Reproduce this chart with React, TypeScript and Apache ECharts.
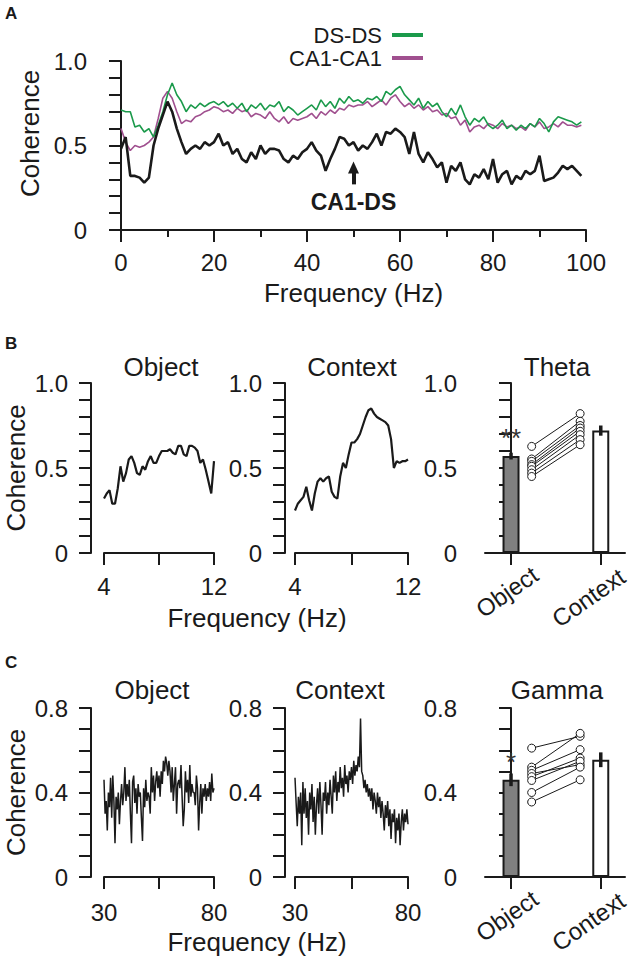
import React, { useEffect, useRef } from 'react';
import * as echarts from 'echarts';

const FONT = 'Liberation Sans, Arial, Helvetica, sans-serif';
const INK = '#1a1a1a';
const GREEN = '#1b9a4b';
const PURPLE = '#a0508f';

// ---------- Panel A: coherence spectra 0-99 Hz ----------
const freqA = Array.from({ length: 100 }, (_, i) => i);
const dsds = [
  0.71, 0.70, 0.70, 0.61, 0.62, 0.58, 0.60, 0.55, 0.62, 0.70,
  0.80, 0.87, 0.80, 0.76, 0.70, 0.74, 0.72, 0.75, 0.73, 0.75,
  0.76, 0.74, 0.76, 0.73, 0.75, 0.72, 0.75, 0.70, 0.74, 0.72,
  0.75, 0.71, 0.74, 0.73, 0.76, 0.70, 0.73, 0.71, 0.68, 0.70,
  0.72, 0.74, 0.71, 0.77, 0.73, 0.76, 0.72, 0.78, 0.75, 0.79,
  0.76, 0.77, 0.75, 0.78, 0.77, 0.79, 0.76, 0.82, 0.80, 0.83,
  0.85, 0.80, 0.77, 0.74, 0.78, 0.72, 0.76, 0.73, 0.75, 0.70,
  0.67, 0.72, 0.68, 0.74, 0.67, 0.62, 0.66, 0.64, 0.67, 0.62,
  0.60, 0.62, 0.65, 0.60, 0.62, 0.59, 0.62, 0.60, 0.63, 0.61,
  0.66, 0.63, 0.58, 0.64, 0.67, 0.66, 0.65, 0.64, 0.62, 0.64,
];
const ca1ca1 = [
  0.60, 0.52, 0.47, 0.50, 0.49, 0.50, 0.52, 0.55, 0.66, 0.78,
  0.82, 0.78, 0.70, 0.63, 0.65, 0.64, 0.67, 0.68, 0.70, 0.71,
  0.73, 0.72, 0.70, 0.71, 0.69, 0.72, 0.70, 0.71, 0.67, 0.69,
  0.68, 0.66, 0.70, 0.66, 0.64, 0.67, 0.63, 0.66, 0.65, 0.66,
  0.67, 0.69, 0.66, 0.70, 0.68, 0.71, 0.69, 0.72, 0.71, 0.74,
  0.73, 0.74, 0.74, 0.76, 0.73, 0.75, 0.77, 0.74, 0.78, 0.80,
  0.76, 0.73, 0.75, 0.72, 0.74, 0.71, 0.73, 0.70, 0.71, 0.68,
  0.69, 0.66, 0.67, 0.62, 0.65, 0.58, 0.61, 0.62, 0.60, 0.63,
  0.62, 0.60, 0.63, 0.61, 0.62, 0.60, 0.61, 0.59, 0.63, 0.61,
  0.64, 0.60, 0.61, 0.63, 0.61, 0.64, 0.62, 0.62, 0.61, 0.62,
];
const ca1ds = [
  0.48, 0.55, 0.32, 0.32, 0.31, 0.28, 0.31, 0.50, 0.60, 0.68,
  0.76, 0.70, 0.60, 0.52, 0.45, 0.48, 0.50, 0.48, 0.52, 0.50,
  0.52, 0.57, 0.50, 0.52, 0.45, 0.48, 0.42, 0.40, 0.46, 0.42,
  0.50, 0.45, 0.48, 0.48, 0.47, 0.42, 0.40, 0.44, 0.42, 0.46,
  0.48, 0.52, 0.47, 0.44, 0.35, 0.42, 0.48, 0.55, 0.54, 0.50,
  0.52, 0.47, 0.50, 0.48, 0.52, 0.57, 0.50, 0.58, 0.57, 0.60,
  0.58, 0.55, 0.45, 0.58, 0.45, 0.40, 0.46, 0.42, 0.37, 0.40,
  0.28, 0.38, 0.35, 0.40, 0.30, 0.27, 0.33, 0.31, 0.36, 0.30,
  0.42, 0.28, 0.33, 0.35, 0.27, 0.32, 0.30, 0.35, 0.33, 0.35,
  0.44, 0.29, 0.30, 0.31, 0.34, 0.38, 0.36, 0.38, 0.35, 0.32,
];
const arrowFreq = 50;
const arrowFrom = 0.27;
const arrowTo = 0.37;

// ---------- Panel B: theta 4-12 Hz ----------
const freqTheta = Array.from({ length: 41 }, (_, i) => Math.round((4 + 0.2 * i) * 10) / 10);
const thetaObject = [
  0.32, 0.35, 0.37, 0.29, 0.29, 0.38, 0.51, 0.42, 0.47, 0.55,
  0.57, 0.53, 0.47, 0.46, 0.51, 0.49, 0.54, 0.57, 0.53, 0.53,
  0.57, 0.60, 0.60, 0.60, 0.61, 0.59, 0.58, 0.63, 0.63, 0.58,
  0.57, 0.63, 0.63, 0.62, 0.60, 0.53, 0.55, 0.49, 0.42, 0.35, 0.54,
];
const thetaContext = [
  0.25, 0.29, 0.31, 0.33, 0.39, 0.31, 0.25, 0.35, 0.42, 0.44,
  0.42, 0.44, 0.45, 0.36, 0.33, 0.32, 0.45, 0.53, 0.50, 0.58,
  0.65, 0.65, 0.67, 0.70, 0.75, 0.80, 0.84, 0.85, 0.82, 0.80,
  0.79, 0.78, 0.77, 0.75, 0.67, 0.50, 0.54, 0.53, 0.54, 0.54, 0.55,
];
const barCats = ['Object', 'Context'];
const thetaMean = [0.57, 0.72];
const thetaSem = [0.02, 0.03];
const thetaObjPts = [0.627, 0.553, 0.539, 0.52, 0.51, 0.49, 0.47, 0.45];
const thetaCtxPts = [0.82, 0.775, 0.75, 0.735, 0.716, 0.696, 0.667, 0.637];
const thetaStars = '**';

// ---------- Panel C: gamma 30-80 Hz ----------
const freqGamma = Array.from({ length: 101 }, (_, i) => 30 + 0.5 * i);
const gammaObject = [
  0.46, 0.30, 0.36, 0.22, 0.40, 0.33, 0.47, 0.28, 0.48, 0.36,
  0.16, 0.38, 0.32, 0.40, 0.25, 0.36, 0.44, 0.34, 0.40, 0.52,
  0.36, 0.44, 0.38, 0.46, 0.30, 0.16, 0.45, 0.48, 0.35, 0.42,
  0.30, 0.44, 0.38, 0.40, 0.28, 0.17, 0.42, 0.33, 0.46, 0.36,
  0.40, 0.38, 0.30, 0.52, 0.40, 0.48, 0.36, 0.45, 0.50, 0.42,
  0.48, 0.38, 0.50, 0.44, 0.55, 0.50, 0.57, 0.54, 0.48, 0.55,
  0.50, 0.40, 0.52, 0.36, 0.44, 0.52, 0.30, 0.44, 0.46, 0.42,
  0.53, 0.38, 0.24, 0.32, 0.50, 0.40, 0.46, 0.35, 0.53, 0.38,
  0.44, 0.40, 0.40, 0.34, 0.48, 0.42, 0.22, 0.35, 0.44, 0.30,
  0.42, 0.38, 0.44, 0.36, 0.42, 0.38, 0.45, 0.36, 0.49, 0.40,
  0.42,
];
const gammaContext = [
  0.47, 0.35, 0.24, 0.38, 0.30, 0.40, 0.15, 0.45, 0.30, 0.42,
  0.28, 0.36, 0.20, 0.40, 0.32, 0.44, 0.26, 0.38, 0.20, 0.34,
  0.42, 0.30, 0.45, 0.34, 0.20, 0.40, 0.36, 0.45, 0.30, 0.40,
  0.34, 0.46, 0.38, 0.30, 0.48, 0.40, 0.50, 0.36, 0.45, 0.40,
  0.52, 0.42, 0.47, 0.38, 0.53, 0.44, 0.48, 0.40, 0.50, 0.46,
  0.52, 0.44, 0.55, 0.48, 0.53, 0.50, 0.57, 0.52, 0.75, 0.50,
  0.48, 0.42, 0.46, 0.40, 0.44, 0.38, 0.42, 0.36, 0.42, 0.32,
  0.40, 0.36, 0.30, 0.40, 0.33, 0.38, 0.28, 0.36, 0.30, 0.22,
  0.34, 0.28, 0.36, 0.24, 0.32, 0.18, 0.30, 0.26, 0.32, 0.16,
  0.28, 0.22, 0.30, 0.15, 0.26, 0.32, 0.22, 0.30, 0.26, 0.32,
  0.25,
];
const gammaMean = [0.46, 0.555];
const gammaSem = [0.03, 0.035];
const gammaObjPts = [0.61, 0.52, 0.505, 0.49, 0.475, 0.457, 0.4, 0.355];
const gammaCtxPts = [0.666, 0.68, 0.603, 0.532, 0.563, 0.548, 0.52, 0.46];
const gammaStars = '*';

// layout constants for bar panels (value-axis positions of groups)
const BAR_MIN = -0.29;
const BAR_MAX = 1.27;
const PAIR_L = 0.23;
const PAIR_R = 0.77;

const zip = (xs: number[], ys: number[]) => xs.map((x, i) => [x, ys[i]]);

const near = (v: number, list: number[]) => list.some((l) => Math.abs(l - v) < 1e-6);
const fmtY = (labels: number[]) => (v: number) =>
  near(v, labels) ? (Math.abs(v) < 1e-6 ? '0' : v.toFixed(1)) : '';

const lineStyleAxis = { color: INK, width: 2 };

function yAx(gridIndex: number, max: number, labels: number[], offset: number, name?: string) {
  return {
    type: 'value',
    gridIndex,
    min: 0,
    max,
    interval: 0.1,
    offset,
    axisLine: { show: true, lineStyle: lineStyleAxis },
    axisTick: { show: true, length: 12, lineStyle: lineStyleAxis },
    splitLine: { show: false },
    axisLabel: { fontSize: 24, color: INK, fontFamily: FONT, margin: 23, formatter: fmtY(labels) },
    name: name || '',
    nameLocation: 'middle',
    nameGap: 62,
    nameTextStyle: { fontSize: 26, color: INK, fontFamily: FONT },
  };
}

function xFreq(gridIndex: number, min: number, max: number, interval: number, labels: number[]) {
  return {
    type: 'value',
    gridIndex,
    min,
    max,
    interval,
    axisLine: { show: true, lineStyle: lineStyleAxis },
    axisTick: { show: true, length: 12, lineStyle: lineStyleAxis },
    splitLine: { show: false },
    axisLabel: {
      fontSize: 24,
      color: INK,
      fontFamily: FONT,
      margin: 21,
      formatter: (v: number) => (near(v, labels) ? String(v) : ''),
    },
  };
}

function xBar(gridIndex: number) {
  return {
    type: 'value',
    gridIndex,
    min: BAR_MIN,
    max: BAR_MAX,
    axisLine: { show: true, lineStyle: lineStyleAxis },
    axisTick: { show: true, length: 12, lineStyle: lineStyleAxis, customValues: [0, 1] },
    splitLine: { show: false },
    axisLabel: {
      customValues: [0, 1],
      fontSize: 24,
      color: INK,
      fontFamily: FONT,
      rotate: 35,
      align: 'center',
      verticalAlign: 'middle',
      margin: 36,
      formatter: (v: number) => (Math.round(v) === 0 ? '{o|' + barCats[0] + '}' : '{c|' + barCats[1] + '}'),
      rich: {
        o: { fontSize: 24, color: INK, fontFamily: FONT, padding: [0, 10, 0, 0] },
        c: { fontSize: 24, color: INK, fontFamily: FONT, padding: [0, 30, 0, 0] },
      },
    },
  };
}

function barSeries(axisIdx: number, mean: number[], sem: number[], objPts: number[], ctxPts: number[], stars: string) {
  const out: any[] = [];
  out.push({
    type: 'bar',
    xAxisIndex: axisIdx,
    yAxisIndex: axisIdx,
    barWidth: 17,
    z: 2,
    data: barCats.map((c, i) => ({
      name: c,
      value: [i, mean[i]],
      itemStyle: { color: i === 0 ? '#808080' : '#ffffff', borderColor: INK, borderWidth: 2 },
      label:
        i === 0
          ? { show: true, position: 'top', distance: 5, formatter: stars, fontSize: 26, color: '#333333', fontFamily: FONT }
          : { show: false },
    })),
  });
  out.push({
    type: 'custom',
    xAxisIndex: axisIdx,
    yAxisIndex: axisIdx,
    z: 5,
    encode: { x: 0, y: 1 },
    data: mean.map((m, i) => [i, m, sem[i]]),
    renderItem: (params: any, api: any) => {
      const x = api.value(0);
      const m = api.value(1);
      const e = api.value(2);
      const top = api.coord([x, m + e]);
      const bot = api.coord([x, m - e]);
      return {
        type: 'line',
        shape: { x1: top[0], y1: top[1], x2: bot[0], y2: bot[1] },
        style: { stroke: INK, lineWidth: 3.5 },
      };
    },
  });
  objPts.forEach((l, k) => {
    out.push({
      type: 'line',
      xAxisIndex: axisIdx,
      yAxisIndex: axisIdx,
      z: 4,
      data: [
        [PAIR_L, l],
        [PAIR_R, ctxPts[k]],
      ],
      symbol: 'circle',
      symbolSize: 8,
      showSymbol: true,
      itemStyle: { color: '#ffffff', borderColor: INK, borderWidth: 1 },
      lineStyle: { color: INK, width: 1 },
    });
  });
  return out;
}

function text(x: number, y: number, t: string, size: number, bold = false, align = 'center') {
  return {
    type: 'text',
    x,
    y,
    style: {
      text: t,
      fontSize: size,
      fontFamily: FONT,
      fontWeight: bold ? 'bold' : 'normal',
      fill: INK,
      align,
      verticalAlign: 'middle',
    },
  };
}

export default function App() {
  const ref = useRef<HTMLDivElement>(null);
  useEffect(() => {
    document.body.style.margin = '0';
    if (!ref.current) return;
    const chart = echarts.init(ref.current, null, { renderer: 'svg' });
    const grids = [
      { left: 121, top: 61, width: 465, height: 169 },
      { left: 104, top: 383, width: 110, height: 170 },
      { left: 295, top: 383, width: 113, height: 170 },
      { left: 485, top: 383, width: 140, height: 170 },
      { left: 104, top: 708, width: 110, height: 169 },
      { left: 295, top: 708, width: 113, height: 169 },
      { left: 485, top: 708, width: 140, height: 169 },
    ].map((g) => ({ ...g, containLabel: false, outerBoundsMode: 'none' }));

    const xA: any = {
      ...xFreq(0, 0, 100, 20, [0, 20, 40, 60, 80, 100]),
      minorTick: { show: true, splitNumber: 2, length: 7, lineStyle: lineStyleAxis },
      name: 'Frequency (Hz)',
      nameLocation: 'middle',
      nameGap: 50,
      nameTextStyle: { fontSize: 26, color: INK, fontFamily: FONT },
    };
    xA.axisLabel.margin = 20;

    const xAxes = [
      xA,
      xFreq(1, 4, 12, 4, [4, 12]),
      xFreq(2, 4, 12, 4, [4, 12]),
      xBar(3),
      xFreq(4, 30, 80, 25, [30, 80]),
      xFreq(5, 30, 80, 25, [30, 80]),
      xBar(6),
    ];
    (xAxes[4] as any).axisLabel.margin = 23;
    (xAxes[5] as any).axisLabel.margin = 23;

    const yAxes = [
      yAx(0, 1, [0, 0.5, 1], 11, 'Coherence'),
      yAx(1, 1, [0, 0.5, 1], 13, 'Coherence'),
      yAx(2, 1, [0, 0.5, 1], 10),
      yAx(3, 1, [0, 0.5, 1], 5),
      yAx(4, 0.8, [0, 0.4, 0.8], 13, 'Coherence'),
      yAx(5, 0.8, [0, 0.4, 0.8], 10),
      yAx(6, 0.8, [0, 0.4, 0.8], 5),
    ];
    (yAxes[0] as any).nameTextStyle = { fontSize: 26, color: INK, fontFamily: FONT, padding: [0, 0, 0, 24] };

    const lineBase = { type: 'line', symbol: 'none', showSymbol: false };

    const series: any[] = [
      {
        ...lineBase,
        name: 'DS-DS',
        xAxisIndex: 0,
        yAxisIndex: 0,
        color: GREEN,
        lineStyle: { color: GREEN, width: 1.6 },
        data: zip(freqA, dsds),
        z: 3,
      },
      {
        ...lineBase,
        name: 'CA1-CA1',
        xAxisIndex: 0,
        yAxisIndex: 0,
        color: PURPLE,
        lineStyle: { color: PURPLE, width: 1.6 },
        data: zip(freqA, ca1ca1),
        z: 2,
      },
      {
        ...lineBase,
        name: 'CA1-DS',
        xAxisIndex: 0,
        yAxisIndex: 0,
        color: INK,
        lineStyle: { color: INK, width: 2.6 },
        data: zip(freqA, ca1ds),
        z: 4,
        markLine: {
          silent: true,
          symbol: ['none', 'triangle'],
          symbolSize: [11, 12],
          lineStyle: { color: INK, width: 4, type: 'solid' },
          label: {
            show: true,
            position: 'start',
            formatter: 'CA1-DS',
            fontSize: 23,
            fontWeight: 'bold',
            color: INK,
            fontFamily: FONT,
            distance: 6,
          },
          data: [[{ coord: [arrowFreq, arrowFrom] }, { coord: [arrowFreq, arrowTo] }]],
        },
      },
      { ...lineBase, xAxisIndex: 1, yAxisIndex: 1, lineStyle: { color: INK, width: 2.2 }, data: zip(freqTheta, thetaObject) },
      { ...lineBase, xAxisIndex: 2, yAxisIndex: 2, lineStyle: { color: INK, width: 2.2 }, data: zip(freqTheta, thetaContext) },
      ...barSeries(3, thetaMean, thetaSem, thetaObjPts, thetaCtxPts, thetaStars),
      { ...lineBase, xAxisIndex: 4, yAxisIndex: 4, lineStyle: { color: INK, width: 1.5 }, data: zip(freqGamma, gammaObject) },
      { ...lineBase, xAxisIndex: 5, yAxisIndex: 5, lineStyle: { color: INK, width: 1.5 }, data: zip(freqGamma, gammaContext) },
      ...barSeries(6, gammaMean, gammaSem, gammaObjPts, gammaCtxPts, gammaStars),
    ];

    chart.setOption({
      animation: false,
      backgroundColor: '#ffffff',
      textStyle: { fontFamily: FONT, color: INK },
      grid: grids,
      xAxis: xAxes,
      yAxis: yAxes,
      legend: {
        data: ['DS-DS', 'CA1-CA1'],
        orient: 'vertical',
        right: 207,
        top: 24,
        padding: 0,
        align: 'right',
        icon: 'rect',
        itemWidth: 31,
        itemHeight: 4,
        itemGap: 1,
        selectedMode: false,
        textStyle: { fontSize: 22, color: INK, fontFamily: FONT, lineHeight: 22, padding: [0, 5, 0, 0] },
      },
      graphic: [
        text(5, 13, 'A', 17, true, 'left'),
        text(5, 343, 'B', 17, true, 'left'),
        text(5, 662, 'C', 17, true, 'left'),
        text(161, 367, 'Object', 26),
        text(352, 367, 'Context', 26),
        text(557, 367, 'Theta', 26),
        text(257, 618, 'Frequency (Hz)', 26),
        text(152, 690, 'Object', 26),
        text(340, 690, 'Context', 26),
        text(557, 690, 'Gamma', 26),
        text(257, 942, 'Frequency (Hz)', 26),
      ],
      series,
    });
    return () => chart.dispose();
  }, []);
  return <div ref={ref} style={{ width: 630, height: 957 }} />;
}
